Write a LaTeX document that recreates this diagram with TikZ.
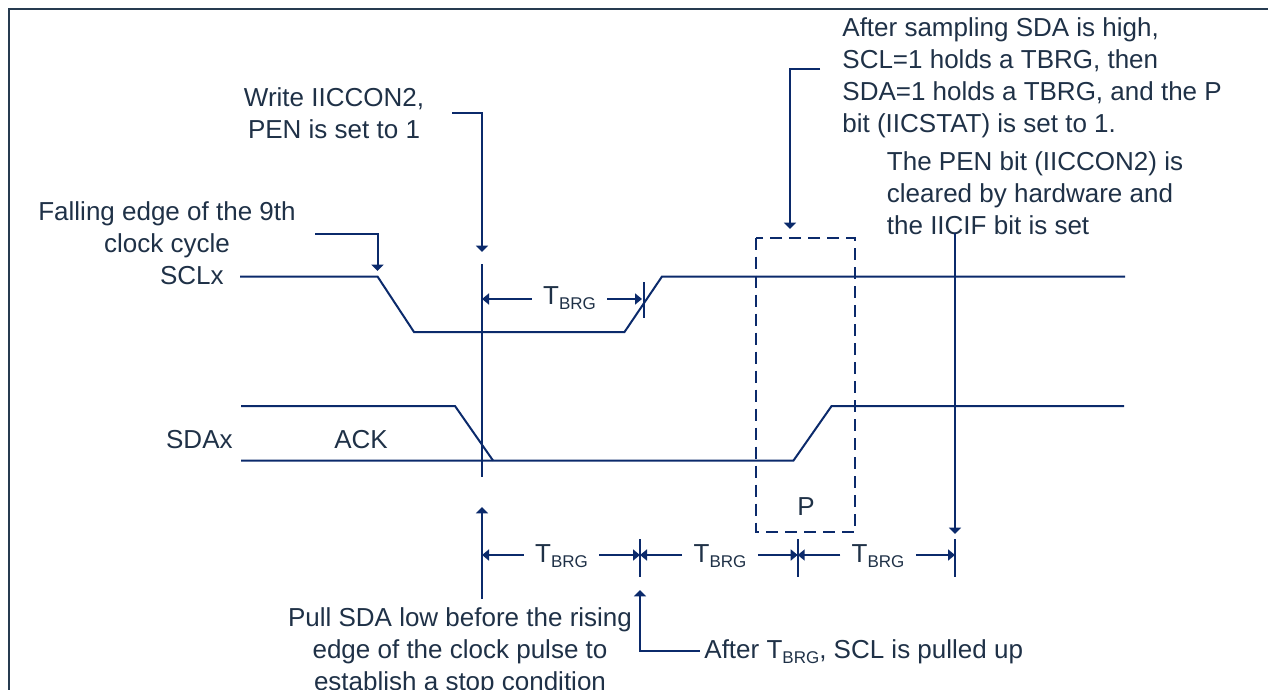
\documentclass[tikz,border=0pt]{standalone}
\usepackage{fontspec}
\setmainfont{Liberation Sans}
\usetikzlibrary{arrows.meta}

\definecolor{sig}{HTML}{0B2A6B}
\definecolor{txt}{HTML}{1F3147}
\definecolor{frm}{HTML}{263B50}

\newcommand{\tbrg}{T\raisebox{-2.5pt}{\fontsize{8.5}{10}\selectfont BRG}}

\tikzset{
  wave/.style={sig, line width=1pt},
  lead/.style={sig, line width=1pt, -{Triangle[width=6pt,length=3.2pt]}},
  dimline/.style={sig, line width=1pt, -{Triangle[width=5.5pt,length=3.5pt]}},
  lbl/.style={txt, inner sep=0pt, font=\fontsize{13}{16}\selectfont},
  dimlbl/.style={lbl, anchor=base, inner xsep=5.5pt},
}

\begin{document}
\begin{tikzpicture}[x=0.5pt, y=-0.5pt]
    \useasboundingbox (0,0) rectangle (1268,690);

    % Frame
    \draw[frm, line width=1.4pt] (1300,9) -- (9,9) -- (9,720);

    % Points of the clock and data lines
    \coordinate (sclA) at (240,276.5);
    \coordinate (sclB) at (377.5,276.5);
    \coordinate (sclC) at (414,332);
    \coordinate (sclD) at (624.5,332);
    \coordinate (sclE) at (662,276.5);
    \coordinate (sclF) at (1125,276.5);
    \coordinate (sdaA) at (241,406);
    \coordinate (sdaB) at (455,406);
    \coordinate (sdaC) at (493,460.5);
    \coordinate (sdaD) at (241,460.5);
    \coordinate (sdaE) at (793.5,460.5);
    \coordinate (sdaF) at (831.6,406);
    \coordinate (sdaG) at (1124,406);

    % Waveforms
    \draw[wave] (sclA) -- (sclB) -- (sclC) -- (sclD) -- (sclE) -- (sclF);
    \draw[wave] (sdaA) -- (sdaB) -- (sdaC);
    \draw[wave] (sdaD) -- (sdaE) -- (sdaF) -- (sdaG);

    % Signal names
    \node[lbl, anchor=base east] (scl) at (224,284) {SCLx};
    \node[lbl, anchor=base east] (sda) at (233,448) {SDAx};
    \node[lbl, anchor=base] (ack) at (361,448) {ACK};

    % Stop condition window
    \draw[sig, line width=1pt, dash pattern=on 6pt off 3.5pt] (756,237.7) rectangle (855,531.7);
    \node[lbl, anchor=base] (pbit) at (806,515) {P};

    % Marker line at the write
    \coordinate (mkTop) at (482,264);
    \coordinate (mkBot) at (482,477);
    \draw[wave] (mkTop) -- (mkBot);

    % Annotations
    \node[lbl, align=center] (write) at (334,113.5) {Write IICCON2,\\PEN is set to 1};
    \coordinate (writeTip) at (482,252);
    \draw[lead] ([xshift=14pt]write.east) -| (writeTip);

    \node[lbl, align=center] (fall) at (167,230) {Falling edge of the 9th\\clock cycle};
    \coordinate (fallTip) at (377.5,271);
    \draw[lead] ([xshift=9.5pt,yshift=-2pt]fall.east) -| (fallTip);

    \node[lbl, align=left, anchor=west] (samp) at (842,78)
        {After sampling SDA is high,\\SCL=1 holds a TBRG, then\\SDA=1 holds a TBRG, and the P\\bit (IICSTAT) is set to 1.};
    \coordinate (sampTip) at (790,229);
    \draw[lead] ([xshift=-11pt,yshift=4.5pt]samp.west) -| (sampTip);

    \node[lbl, align=left, anchor=west] (pen) at (886.5,193)
        {The PEN bit (IICCON2) is\\cleared by hardware and\\the IICIF bit is set};
    \coordinate (penTop) at (955,233);
    \coordinate (penTip) at (955,534);
    \draw[lead] (penTop) -- (penTip);

    \node[lbl, align=center] (pull) at (460,652)
        {Pull SDA low before the rising\\edge of the clock pulse to\\establish a stop condition};
    \coordinate (pullBot) at (482,599);
    \coordinate (pullTip) at (482,507);
    \draw[lead] (pullBot) -- (pullTip);

    \node[lbl, anchor=base west] (rise) at (704,658) {After \tbrg, SCL is pulled up};
    \coordinate (riseTip) at (640,590);
    \draw[lead] ([xshift=-2pt]rise.west) -| (riseTip);

    % T_BRG on the clock line
    \coordinate (dTl) at (482,299);
    \coordinate (dTr) at (642,299);
    \draw[wave] (643.5,282) -- (643.5,318);
    \node[dimlbl] (tTop) at (569.5,304) {\tbrg};
    \draw[dimline] (tTop.west |- dTl) -- (dTl);
    \draw[dimline] (tTop.east |- dTr) -- (dTr);

    % T_BRG row at the bottom
    \coordinate (b0) at (482,555);
    \coordinate (b1) at (640,555);
    \coordinate (b2) at (797.7,555);
    \coordinate (b3) at (955,555);
    \foreach \x in {640,797.7,955}
        \draw[wave] (\x,539) -- (\x,577);
    \node[dimlbl] (tA) at (561.5,562) {\tbrg};
    \node[dimlbl] (tB) at (720,562) {\tbrg};
    \node[dimlbl] (tC) at (878,562) {\tbrg};
    \draw[dimline] (tA.west |- b0) -- (b0);
    \draw[dimline] (tA.east |- b1) -- (b1);
    \draw[dimline] (tB.west |- b1) -- (b1);
    \draw[dimline] (tB.east |- b2) -- (b2);
    \draw[dimline] (tC.west |- b2) -- (b2);
    \draw[dimline] (tC.east |- b3) -- (b3);

\end{tikzpicture}
\end{document}
